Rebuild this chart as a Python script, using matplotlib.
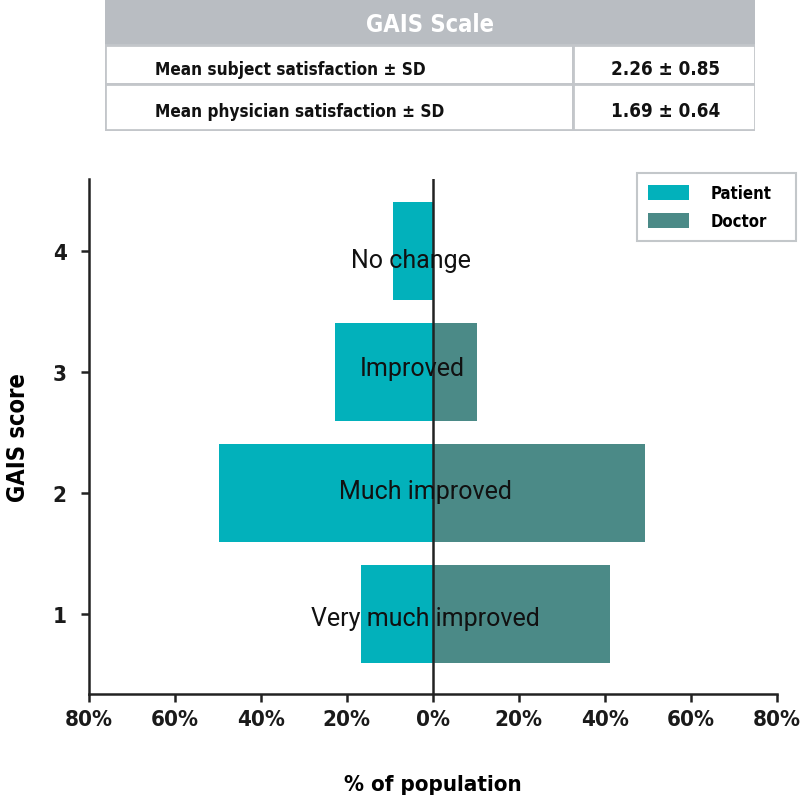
import matplotlib
matplotlib.use("Agg")
import matplotlib.pyplot as plt
from matplotlib.patches import Rectangle, Patch
from matplotlib.ticker import FuncFormatter

# data
scores = [1, 2, 3, 4]
categories = ['Very much improved', 'Much improved', 'Improved', 'No change']
patient = [16.6, 49.7, 22.8, 9.3]
doctor = [41.3, 49.4, 10.3, 0.0]

table_title = 'GAIS Scale'
table_rows = ['Mean subject satisfaction \u00b1 SD', 'Mean physician satisfaction \u00b1 SD']
table_vals = ['2.26 \u00b1 0.85', '1.69 \u00b1 0.64']

col_patient = '#02b1bb'
col_doctor = '#4b8a87'
cond = dict(family='DejaVu Sans', stretch='condensed', weight='bold')

fig = plt.figure(figsize=(8, 8.03), dpi=100)

# ---- table at the top
tax = fig.add_axes([0.1313, 0.8356, 0.8125, 0.1644])
tax.set_xlim(0, 1)
tax.set_ylim(0, 1)
tax.axis('off')
edge = '#c3c6ca'
hdr, mid, split = 0.652, 0.356, 0.72
tax.add_patch(Rectangle((0, hdr), 1, 1 - hdr, facecolor='#b9bdc2', edgecolor='none'))
for y0, y1 in [(mid, hdr), (0.008, mid)]:
    tax.add_patch(Rectangle((0, y0), split, y1 - y0, facecolor='white', edgecolor=edge, lw=2))
    tax.add_patch(Rectangle((split, y0), 1 - split, y1 - y0, facecolor='white', edgecolor=edge, lw=2))
tax.text(0.5, 0.81, table_title, ha='center', va='center', color='white',
         fontsize=17, **cond)
row_y = [0.47, 0.152]
for y, lab, val in zip(row_y, table_rows, table_vals):
    tax.text(0.077, y, lab, ha='left', va='center', fontsize=12.3,
             color='#111111', **cond)
    tax.text(0.862, y, val, ha='center', va='center', fontsize=13.5,
             color='#111111', **cond)

# ---- butterfly chart
ax = fig.add_axes([0.111, 0.1345, 0.86, 0.6415])
neg_patient = [-p for p in patient]
ax.barh(scores, neg_patient, height=0.81, color=col_patient)
ax.barh(scores, doctor, height=0.81, color=col_doctor)
ax.axvline(0, color='#222222', lw=1.8)

label_x = [-1.7, -1.6, -4.8, -5.0]
label_dy = [-0.035, 0.02, 0.035, -0.075]
for s, c, lx, dy in zip(scores, categories, label_x, label_dy):
    ax.text(lx, s + dy, c, ha='center', va='center', fontsize=18,
            family=['Roboto', 'DejaVu Sans'], color='#111111')

ax.set_xlim(-80, 80)
ax.set_ylim(0.34, 4.6)
ax.set_xticks(range(-80, 81, 20))
ax.xaxis.set_major_formatter(FuncFormatter(lambda v, p: f'{abs(int(v))}%'))
ax.set_yticks(scores)
for sp in ['top', 'right']:
    ax.spines[sp].set_visible(False)
for sp in ['left', 'bottom']:
    ax.spines[sp].set_linewidth(1.8)
    ax.spines[sp].set_color('#222222')
ax.tick_params(axis='both', direction='out', length=6, width=1.8, color='#222222')
ax.tick_params(axis='x', pad=5)
ax.tick_params(axis='y', pad=10)
for t in ax.get_xticklabels() + ax.get_yticklabels():
    t.set_fontproperties(dict(size=16, **cond))
    t.set_color('#1a1a1a')

ax.set_xlabel('% of population', fontsize=16, labelpad=32, **cond)
ax.set_ylabel('GAIS score', fontsize=17, labelpad=16, **cond)

handles = [Patch(facecolor=col_patient, label='Patient'),
           Patch(facecolor=col_doctor, label='Doctor')]
leg = fig.legend(handles=handles, loc='upper left', bbox_to_anchor=(0.796, 0.70, 0.199, 0.0833),
                 mode='expand', borderaxespad=0, fancybox=False, edgecolor='#b5b9bd',
                 handlelength=2.5, handleheight=1.0, borderpad=0.66, labelspacing=0.6,
                 handletextpad=1.25, prop=dict(size=12, **cond))
leg.get_frame().set_linewidth(1.5)

fig.savefig('out.png', dpi=100, facecolor='white')
